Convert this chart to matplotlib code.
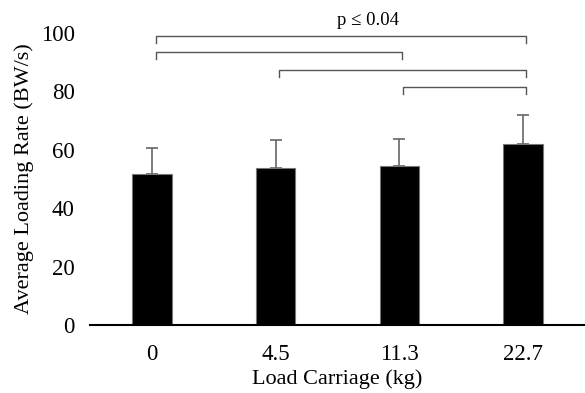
import matplotlib.pyplot as plt
import numpy as np

plt.rcParams['font.family'] = ['Liberation Serif', 'DejaVu Serif']

loads = ["0", "4.5", "11.3", "22.7"]
means = [51.7, 53.8, 54.5, 62.0]
sds = [9.0, 9.6, 9.2, 10.0]

# significance brackets: (start index, end index, height)
brackets = [(0, 3, 99.0), (0, 2, 93.4), (1, 3, 87.3), (2, 3, 81.4)]
sig_text = "p \u2264 0.04"

fig = plt.figure(figsize=(5.85, 3.93), dpi=100)
ax = fig.add_axes([0.154, 0.173, 0.846, 0.743])

x = np.arange(len(loads))
ax.bar(x, means, width=0.32, color='black', edgecolor='#777777', linewidth=0.8, zorder=2)
ax.errorbar(x, means, yerr=[np.zeros(len(sds)), sds], fmt='none', ecolor='#666666',
            elinewidth=1.2, capsize=4, capthick=1.2, zorder=1)

tick = 2.4
for i, j, h in brackets:
    xi, xj = x[i] + 0.03, x[j] + 0.02
    ax.plot([xi, xi, xj, xj], [h - tick, h, h, h - tick], color='#555555', lw=1.0,
            clip_on=False)
ax.text(1.75, 104.4, sig_text, ha='center', va='center', fontsize=13.5, clip_on=False)

ax.set_xlim(-0.5, 3.5)
ax.set_ylim(0, 100)
ax.set_yticks(range(0, 101, 20))
ax.set_xticks(x)
ax.set_xticklabels(loads)
ax.tick_params(length=0, labelsize=16.5, pad=14)
ax.tick_params(axis='y', pad=11)
for s in ['top', 'right', 'left']:
    ax.spines[s].set_visible(False)
ax.spines['bottom'].set_linewidth(1.5)
ax.set_xlabel("Load Carriage (kg)", fontsize=16, labelpad=3)
ax.set_ylabel("Average Loading Rate (BW/s)", fontsize=16, labelpad=5)

fig.savefig("out.png", dpi=100)
